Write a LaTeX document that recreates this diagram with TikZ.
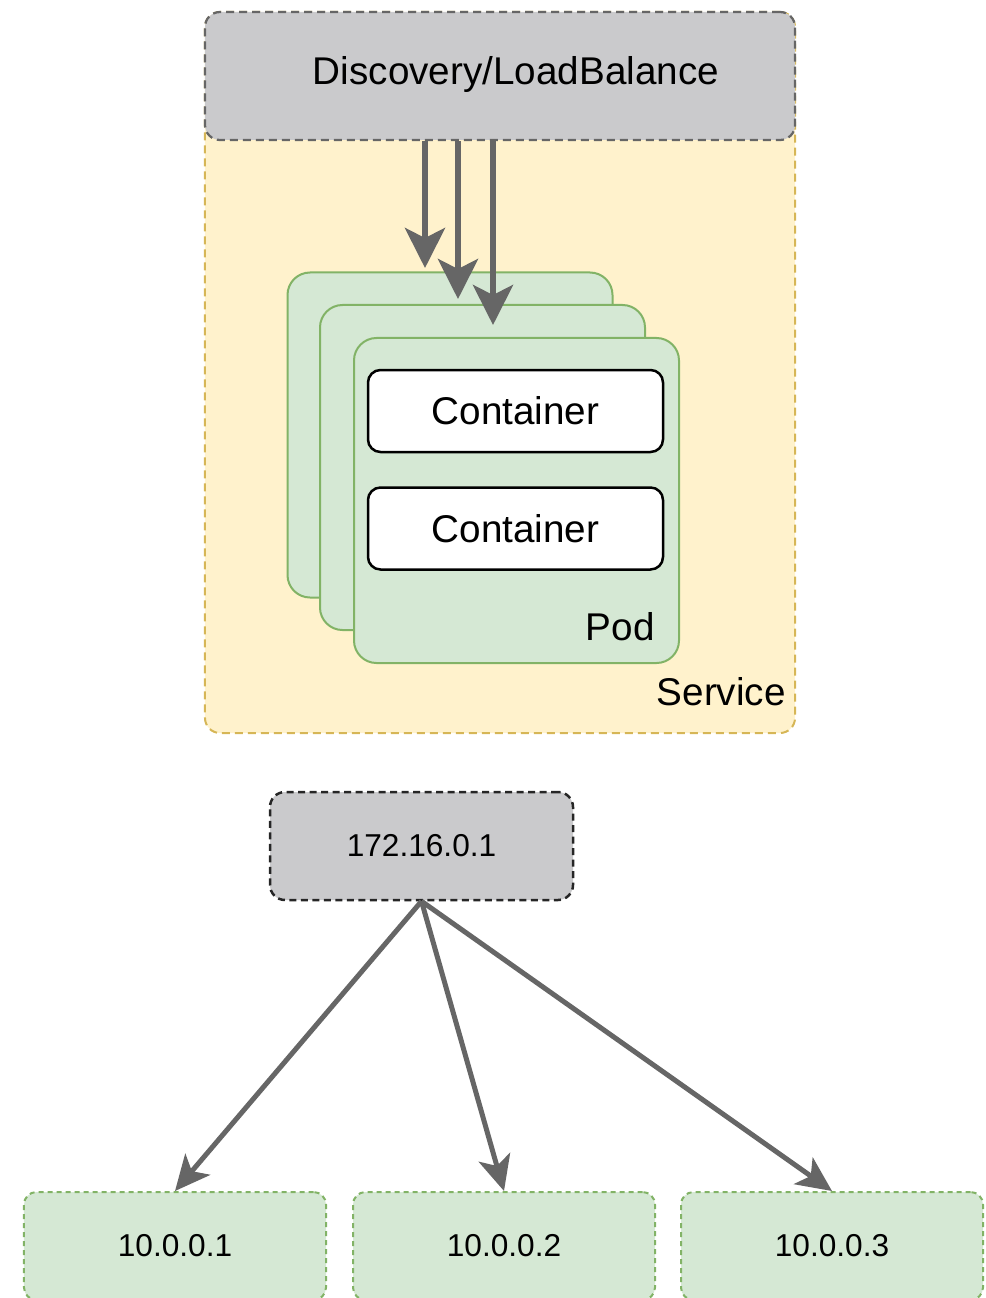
\documentclass[tikz,border=0pt]{standalone}
\usepackage{fontspec}
\setmainfont{Liberation Sans}
\usepackage{xcolor}
\usetikzlibrary{arrows.meta,positioning}

\definecolor{svcfill}{HTML}{FFF2CC}
\definecolor{svcline}{HTML}{D6B656}
\definecolor{podfill}{HTML}{D5E8D4}
\definecolor{podline}{HTML}{82B366}
\definecolor{lbfill}{HTML}{CACACC}
\definecolor{arrowgray}{HTML}{666666}

\newcommand{\bigtxt}{\fontsize{22}{26}\selectfont}
\newcommand{\iptxt}{\fontsize{18}{21}\selectfont}

\tikzset{
	svcbox/.style={draw=svcline, fill=svcfill, line width=0.4mm,
		dash pattern=on 1.6mm off 1mm, rounded corners=3mm},
	lbbox/.style={draw=arrowgray, fill=lbfill, line width=0.45mm,
		dash pattern=on 1.6mm off 1mm, rounded corners=3mm},
	podbox/.style={draw=podline, fill=podfill, line width=0.4mm,
		rounded corners=4.5mm, minimum width=65mm, minimum height=65mm},
	ctrbox/.style={draw=black, fill=white, line width=0.5mm,
		rounded corners=2.5mm, minimum width=59mm, minimum height=16.4mm},
	ipbox/.style={draw=black!85, fill=lbfill, line width=0.5mm,
		dash pattern=on 1.4mm off 0.9mm, rounded corners=3mm,
		minimum width=60.6mm, minimum height=21.6mm},
	hostbox/.style={draw=podline, fill=podfill, line width=0.4mm,
		dash pattern=on 1mm off 0.8mm, rounded corners=2.5mm,
		minimum width=60.4mm, minimum height=21.6mm},
	arr/.style={-{Stealth[length=8mm,width=8mm,inset=2mm]},
		draw=arrowgray, fill=arrowgray, line width=1.2mm},
	iparr/.style={-{Stealth[length=7mm,width=6.5mm,inset=1.8mm]},
		draw=arrowgray, fill=arrowgray, line width=1mm}
}

\begin{document}
\begin{tikzpicture}[x=0.2mm,y=-0.2mm]
	\useasboundingbox (0,0) rectangle (985,1298);
	% Draw the service with the discovery bar on top
	\node (service) [svcbox, minimum width=118mm, minimum height=144.2mm] at (500,372.5) {};
	\node (disc) [lbbox, minimum width=118mm, minimum height=25.6mm] at (500,76) {};
	\node (disctext) at (516,75) {\bigtxt Discovery/LoadBalance};
	\node (svclabel) [anchor=east, inner sep=0pt] at (786,692) {\bigtxt Service};
	% Draw three pods, one behind the other
	\node (pod1) [podbox] at (450,435) {};
	\node (pod2) [podbox] at (482.5,467.5) {};
	\node (pod3) [podbox] at (516.5,500.5) {};
	\node (ctr1) [ctrbox] at (515.5,411) {\bigtxt Container};
	\node (ctr2) [ctrbox, below=6.6mm of ctr1] {\bigtxt Container};
	\node (podlabel) [anchor=east, inner sep=0pt] at (655,627) {\bigtxt Pod};
	% Arrows from the load balancer down to each pod
	\coordinate (t1) at (425,268);
	\coordinate (t2) at (458,299);
	\coordinate (t3) at (493,325);
	\draw [arr] (disc.south -| t1) -- (t1);
	\draw [arr] (disc.south -| t2) -- (t2);
	\draw [arr] (disc.south -| t3) -- (t3);
	% Draw the service ip and the pod ips
	\node (ip) [ipbox] at (421.5,846) {\iptxt 172.16.0.1};
	\node (host1) [hostbox] at (175,1246) {\iptxt 10.0.0.1};
	\node (host2) [hostbox] at (504,1246) {\iptxt 10.0.0.2};
	\node (host3) [hostbox] at (832,1246) {\iptxt 10.0.0.3};
	\draw [iparr] (ip.south) -- (host1.north);
	\draw [iparr] (ip.south) -- (host2.north);
	\draw [iparr] (ip.south) -- (host3.north);
\end{tikzpicture}
\end{document}
